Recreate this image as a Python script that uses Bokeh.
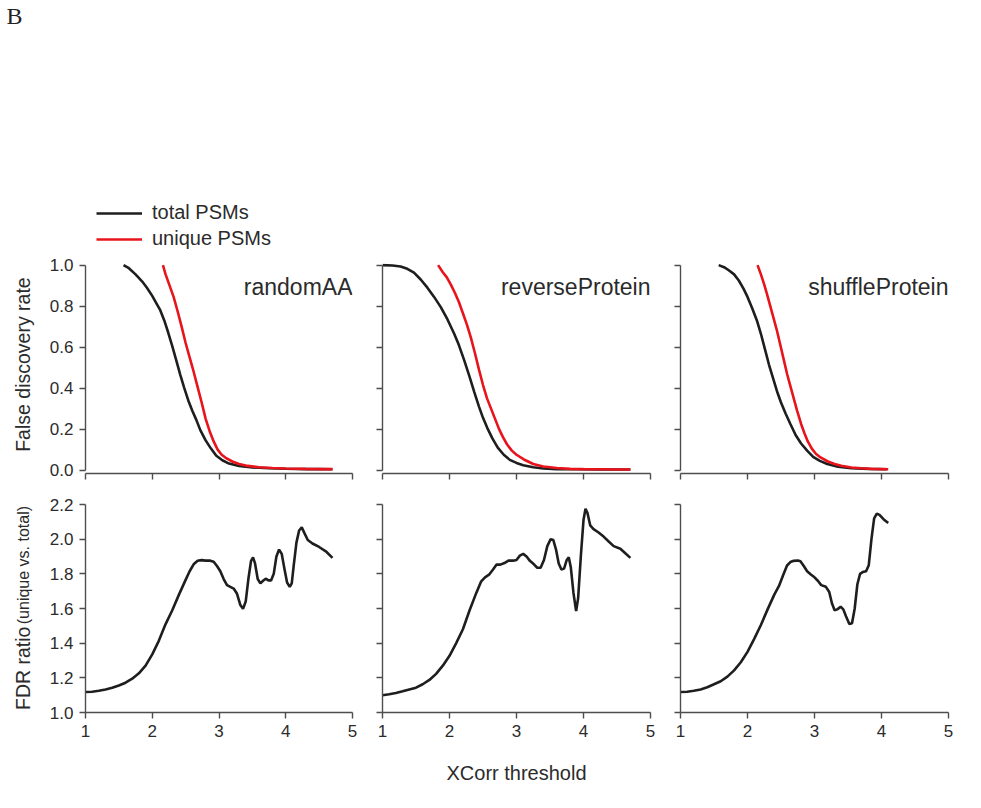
import math
from bokeh.plotting import figure
from bokeh.models import Label, Legend, LegendItem, FixedTicker, Range1d
from bokeh.layouts import column, row
from bokeh.embed import file_html
from bokeh.resources import INLINE

# ---------------- data ----------------
panel_names = ["randomAA", "reverseProtein", "shuffleProtein"]
legend_labels = ["total PSMs", "unique PSMs"]
x_ticks = [1, 2, 3, 4, 5]
x_tick_labels = ["1", "2", "3", "4", "5"]
fdr_ticks = [0.0, 0.2, 0.4, 0.6, 0.8, 1.0]
fdr_tick_labels = ["0.0", "0.2", "0.4", "0.6", "0.8", "1.0"]
ratio_ticks = [1.0, 1.2, 1.4, 1.6, 1.8, 2.0, 2.2]
ratio_tick_labels = ["1.0", "1.2", "1.4", "1.6", "1.8", "2.0", "2.2"]

random_total_x = [1.57, 1.65, 1.75, 1.85, 1.92, 2.0, 2.06, 2.12, 2.18, 2.24, 2.3, 2.36, 2.42, 2.48, 2.54,
                  2.6, 2.66, 2.72, 2.8, 2.88, 2.96, 3.05, 3.15, 3.3, 3.5, 3.75, 4.0, 4.3, 4.5, 4.7]
random_total_y = [1.0, 0.985, 0.955, 0.92, 0.89, 0.85, 0.815, 0.78, 0.73, 0.67, 0.605, 0.535, 0.465, 0.40, 0.34,
                  0.29, 0.245, 0.195, 0.145, 0.105, 0.07, 0.048, 0.032, 0.02, 0.013, 0.009, 0.007, 0.005, 0.005, 0.004]
random_unique_x = [2.16, 2.2, 2.26, 2.32, 2.38, 2.44, 2.5, 2.56, 2.62, 2.68, 2.74, 2.8, 2.86, 2.92, 2.98,
                   3.04, 3.1, 3.2, 3.3, 3.4, 3.6, 3.8, 4.0, 4.3, 4.5, 4.7]
random_unique_y = [1.0, 0.955, 0.90, 0.845, 0.775, 0.70, 0.62, 0.55, 0.48, 0.405, 0.33, 0.25, 0.19, 0.14, 0.10,
                   0.075, 0.06, 0.042, 0.03, 0.022, 0.014, 0.01, 0.008, 0.006, 0.005, 0.005]

reverse_total_x = [1.0, 1.15, 1.27, 1.37, 1.47, 1.57, 1.67, 1.77, 1.87, 1.97, 2.07, 2.14, 2.22, 2.3, 2.37,
                   2.44, 2.5, 2.565, 2.64, 2.72, 2.81, 2.9, 3.0, 3.1, 3.25, 3.4, 3.6, 3.9, 4.2, 4.5, 4.7]
reverse_total_y = [1.0, 0.998, 0.993, 0.982, 0.963, 0.93, 0.89, 0.845, 0.795, 0.735, 0.665, 0.61, 0.535, 0.455, 0.38,
                   0.31, 0.255, 0.205, 0.155, 0.11, 0.075, 0.05, 0.035, 0.024, 0.014, 0.008, 0.005, 0.004, 0.003, 0.003, 0.003]
reverse_unique_x = [1.83, 1.9, 1.96, 2.02, 2.08, 2.14, 2.2, 2.26, 2.32, 2.38, 2.44, 2.5, 2.56, 2.62, 2.68,
                    2.74, 2.8, 2.86, 2.93, 3.0, 3.11, 3.25, 3.4, 3.6, 3.8, 4.0, 4.3, 4.5, 4.7]
reverse_unique_y = [1.0, 0.965, 0.94, 0.905, 0.865, 0.82, 0.765, 0.71, 0.645, 0.57, 0.49, 0.415, 0.35, 0.30, 0.25,
                    0.20, 0.16, 0.125, 0.095, 0.075, 0.052, 0.03, 0.018, 0.01, 0.006, 0.005, 0.004, 0.003, 0.003]

shuffle_total_x = [1.57, 1.65, 1.72, 1.8, 1.87, 1.94, 2.0, 2.07, 2.14, 2.2, 2.26, 2.32, 2.38, 2.44, 2.5,
                   2.57, 2.64, 2.72, 2.8, 2.89, 2.98, 3.08, 3.19, 3.35, 3.55, 3.8, 4.08]
shuffle_total_y = [1.0, 0.99, 0.975, 0.955, 0.925, 0.885, 0.845, 0.79, 0.73, 0.665, 0.59, 0.515, 0.45, 0.385, 0.33,
                   0.275, 0.225, 0.17, 0.13, 0.095, 0.065, 0.045, 0.03, 0.017, 0.009, 0.006, 0.004]
shuffle_unique_x = [2.15, 2.2, 2.25, 2.29, 2.34, 2.39, 2.44, 2.49, 2.54, 2.59, 2.64, 2.69, 2.74, 2.8, 2.85,
                    2.9, 2.96, 3.02, 3.09, 3.2, 3.3, 3.4, 3.55, 3.7, 3.85, 4.0, 4.1]
shuffle_unique_y = [1.0, 0.955, 0.905, 0.86, 0.80, 0.74, 0.68, 0.61, 0.54, 0.47, 0.41, 0.35, 0.29, 0.225, 0.18,
                    0.14, 0.105, 0.08, 0.062, 0.042, 0.03, 0.021, 0.013, 0.009, 0.006, 0.005, 0.004]

random_ratio_x = [1.0, 1.1, 1.2, 1.3, 1.4, 1.5, 1.6, 1.7, 1.8, 1.9, 2.0, 2.1, 2.2, 2.3, 2.4, 2.5, 2.56, 2.62,
                  2.68, 2.74, 2.8, 2.87, 2.92, 2.97, 3.02, 3.07, 3.12, 3.17, 3.22, 3.27, 3.32, 3.36, 3.4, 3.44,
                  3.48, 3.51, 3.54, 3.58, 3.62, 3.66, 3.7, 3.74, 3.78, 3.82, 3.86, 3.9, 3.94, 3.98, 4.02, 4.06,
                  4.09, 4.12, 4.16, 4.2, 4.24, 4.28, 4.33, 4.4, 4.5, 4.6, 4.7]
random_ratio_y = [1.118, 1.12, 1.125, 1.133, 1.143, 1.156, 1.172, 1.195, 1.226, 1.27, 1.335, 1.415, 1.51, 1.59,
                  1.68, 1.765, 1.815, 1.855, 1.875, 1.879, 1.876, 1.876, 1.87, 1.845, 1.815, 1.77, 1.735, 1.725,
                  1.715, 1.685, 1.62, 1.598, 1.64, 1.77, 1.875, 1.895, 1.86, 1.77, 1.745, 1.76, 1.772, 1.762,
                  1.762, 1.80, 1.90, 1.94, 1.915, 1.83, 1.75, 1.725, 1.745, 1.85, 1.98, 2.05, 2.068, 2.035,
                  1.995, 1.975, 1.955, 1.93, 1.892]

reverse_ratio_x = [1.0, 1.1, 1.2, 1.3, 1.4, 1.5, 1.6, 1.7, 1.8, 1.9, 2.0, 2.1, 2.2, 2.3, 2.4, 2.47, 2.53, 2.59,
                   2.65, 2.7, 2.76, 2.82, 2.88, 2.95, 3.0, 3.05, 3.1, 3.15, 3.2, 3.26, 3.31, 3.36, 3.41, 3.46,
                   3.51, 3.55, 3.59, 3.63, 3.67, 3.71, 3.75, 3.78, 3.81, 3.85, 3.89, 3.92, 3.96, 4.0, 4.03, 4.06,
                   4.1, 4.15, 4.22, 4.3, 4.38, 4.45, 4.55, 4.62, 4.7]
reverse_ratio_y = [1.10, 1.105, 1.112, 1.122, 1.133, 1.143, 1.163, 1.188, 1.223, 1.27, 1.327, 1.40, 1.48, 1.59,
                   1.69, 1.755, 1.78, 1.795, 1.825, 1.853, 1.853, 1.862, 1.876, 1.876, 1.88, 1.905, 1.915, 1.90,
                   1.875, 1.855, 1.835, 1.835, 1.88, 1.96, 2.0, 1.995, 1.94, 1.86, 1.825, 1.83, 1.88, 1.895,
                   1.84, 1.69, 1.585, 1.66, 1.90, 2.11, 2.175, 2.15, 2.08, 2.058, 2.04, 2.015, 1.985, 1.96,
                   1.945, 1.92, 1.892]

shuffle_ratio_x = [1.0, 1.1, 1.2, 1.3, 1.4, 1.5, 1.6, 1.7, 1.8, 1.9, 2.0, 2.1, 2.2, 2.3, 2.4, 2.47, 2.53, 2.59,
                   2.64, 2.69, 2.75, 2.79, 2.84, 2.89, 2.95, 3.0, 3.05, 3.1, 3.17, 3.22, 3.26, 3.3, 3.34, 3.39,
                   3.43, 3.47, 3.52, 3.56, 3.6, 3.64, 3.68, 3.72, 3.77, 3.81, 3.85, 3.89, 3.93, 3.97, 4.03, 4.1]
shuffle_ratio_y = [1.118, 1.12, 1.125, 1.133, 1.146, 1.163, 1.18, 1.207, 1.243, 1.29, 1.35, 1.425, 1.505, 1.595,
                   1.68, 1.73, 1.79, 1.848, 1.868, 1.875, 1.877, 1.872, 1.845, 1.815, 1.795, 1.78, 1.76, 1.735,
                   1.725, 1.695, 1.63, 1.59, 1.595, 1.61, 1.595, 1.555, 1.51, 1.515, 1.6, 1.74, 1.80, 1.81,
                   1.815, 1.85, 2.0, 2.12, 2.147, 2.14, 2.115, 2.093]

fdr_series = [
    (random_total_x, random_total_y, random_unique_x, random_unique_y),
    (reverse_total_x, reverse_total_y, reverse_unique_x, reverse_unique_y),
    (shuffle_total_x, shuffle_total_y, shuffle_unique_x, shuffle_unique_y),
]
ratio_series = [
    (random_ratio_x, random_ratio_y),
    (reverse_ratio_x, reverse_ratio_y),
    (shuffle_ratio_x, shuffle_ratio_y),
]

# ---------------- style / layout ----------------
FONT = "Liberation Sans"
SERIF = "Liberation Serif"
AXIS_COLOR = "#4d4d4d"
TEXT_COLOR = "#2b2b2b"
BLACK = "#1e1e1e"
RED = "#e8141c"
LW = 2.6

LEFT_W = 40
widths = [320, 298, 302]
left_b = [45, 22, 22]
right_b = [8, 8, 12]
TOTAL_W = LEFT_W + sum(widths)
HEAD_H = 251
TOP_T, TOP_F, TOP_B = 12, 210, 19
BOT_T, BOT_F, BOT_B = 12, 208, 34
TOP_H = TOP_T + TOP_F + TOP_B
BOT_H = BOT_T + BOT_F + BOT_B
FOOT_H = 40


def blank(width, height):
    p = figure(width=width, height=height, x_range=Range1d(0, width), y_range=Range1d(0, height),
               x_axis_type=None, y_axis_type=None, min_border_left=0, min_border_right=0,
               min_border_top=0, min_border_bottom=0, output_backend="svg", toolbar_location=None)
    p.grid.visible = False
    p.outline_line_color = None
    p.background_fill_color = "white"
    p.border_fill_color = "white"
    return p


def style(p, xlab, ylab, yt, ytl, ybounds):
    p.grid.visible = False
    p.outline_line_color = None
    p.background_fill_color = "white"
    p.border_fill_color = "white"
    for ax in list(p.xaxis) + list(p.yaxis):
        ax.axis_line_color = AXIS_COLOR
        ax.axis_line_width = 1.4
        ax.major_tick_line_color = AXIS_COLOR
        ax.major_tick_line_width = 1.4
        ax.major_tick_out = 6
        ax.major_tick_in = 0
        ax.minor_tick_line_color = None
        ax.major_label_text_font = FONT
        ax.major_label_text_font_size = "17px"
        ax.major_label_text_color = TEXT_COLOR
        ax.major_label_standoff = 6
    xa = p.xaxis[0]
    ya = p.yaxis[0]
    xa.ticker = FixedTicker(ticks=x_ticks)
    xa.bounds = (x_ticks[0], x_ticks[-1])
    ya.ticker = FixedTicker(ticks=yt)
    ya.bounds = ybounds
    if xlab:
        xa.major_label_overrides = dict(zip(x_ticks, x_tick_labels))
    else:
        xa.major_label_text_font_size = "0px"
        xa.major_label_text_color = None
        xa.major_label_standoff = 0
    if ylab:
        ya.major_label_overrides = dict(zip(yt, ytl))
    else:
        ya.major_label_text_font_size = "0px"
        ya.major_label_text_color = None
        ya.major_label_standoff = 0


def text_label(fig, x, y, text, size, align="center", angle=0.0, font=FONT, color=TEXT_COLOR, **kw):
    fig.add_layout(Label(x=x, y=y, text=text, angle=angle, text_align=align,
                         text_baseline="alphabetic", text_font=font,
                         text_font_size=f"{size}px", text_color=color, **kw))


# header: panel letter + legend
head = blank(TOTAL_W, HEAD_H)
text_label(head, 6, HEAD_H - 25 + 10, "B", 24, align="left", font=SERIF, color="#222222")
leg_tot = head.line(x=[float("nan")], y=[float("nan")], line_color=BLACK, line_width=LW)
leg_uni = head.line(x=[float("nan")], y=[float("nan")], line_color=RED, line_width=LW)
legend = Legend(items=[LegendItem(label=legend_labels[0], renderers=[leg_tot]),
                       LegendItem(label=legend_labels[1], renderers=[leg_uni])],
                location=(96, HEAD_H - 250), padding=0, margin=0, spacing=3,
                glyph_width=46, glyph_height=22, label_height=22, label_standoff=10,
                label_text_font=FONT, label_text_font_size="20px",
                label_text_color=TEXT_COLOR, border_line_color=None, background_fill_alpha=0)
head.add_layout(legend)

# left label columns (rotated y titles)
ltop = blank(LEFT_W, TOP_H)
text_label(ltop, 22, TOP_H - (367 - HEAD_H), "False discovery rate", 19.5, angle=math.pi / 2)
lbot = blank(LEFT_W, BOT_H)
bot_base = HEAD_H + TOP_H + BOT_H
text_label(lbot, 22, bot_base - 692, "FDR ratio", 19.5, angle=math.pi / 2)
text_label(lbot, 23, bot_base - 566, "(unique vs. total)", 16, angle=math.pi / 2)

# footer: x axis title centred under the middle panel
foot = blank(TOTAL_W, FOOT_H)
text_label(foot, LEFT_W + widths[0] + left_b[1] + 134, 14, "XCorr threshold", 20)

top_figs = [ltop]
bot_figs = [lbot]
for i in range(3):
    tx, ty, ux, uy = fdr_series[i]
    p = figure(width=widths[i], height=TOP_H, x_range=Range1d(1, 5),
               y_range=Range1d(-0.0165, -0.0165 + TOP_F / 205),
               min_border_left=left_b[i], min_border_right=right_b[i],
               min_border_top=TOP_T, min_border_bottom=TOP_B,
               output_backend="svg", toolbar_location=None)
    style(p, False, i == 0, fdr_ticks, fdr_tick_labels, (fdr_ticks[0], fdr_ticks[-1]))
    p.line(tx, ty, line_color=BLACK, line_width=LW)
    p.line(ux, uy, line_color=RED, line_width=LW)
    text_label(p, 5, 187, panel_names[i], 23, align="right", x_units="data", y_units="screen")
    top_figs.append(p)

    rx, ry = ratio_series[i]
    q = figure(width=widths[i], height=BOT_H, x_range=Range1d(1, 5),
               y_range=Range1d(ratio_ticks[0], ratio_ticks[-1]),
               min_border_left=left_b[i], min_border_right=right_b[i],
               min_border_top=BOT_T, min_border_bottom=BOT_B,
               output_backend="svg", toolbar_location=None)
    style(q, True, i == 0, ratio_ticks, ratio_tick_labels, (ratio_ticks[0], ratio_ticks[-1]))
    q.line(rx, ry, line_color=BLACK, line_width=LW)
    bot_figs.append(q)

layout = column(head, row(*top_figs), row(*bot_figs), foot)
open("out.html", "w").write(file_html(layout, INLINE))
